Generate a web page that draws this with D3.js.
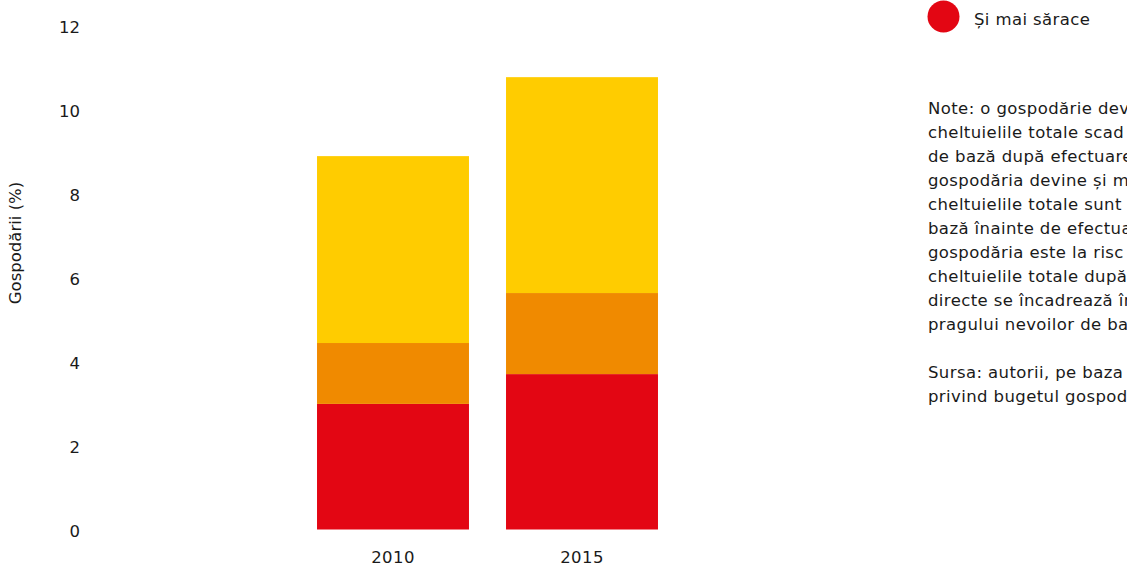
<!DOCTYPE html>
<html lang="ro">
<head>
<meta charset="utf-8">
<script src="https://cdn.jsdelivr.net/npm/d3@7"></script>
<style>
  html, body { margin: 0; padding: 0; background: #fff; }
  svg { display: block; font-family: "DejaVu Sans", "Noto Sans", sans-serif; }
</style>
</head>
<body>
<svg id="chart" width="1127" height="565"></svg>
<script>
// Categories and stacked series (share of households, %)
const years = ["2010", "2015"];
const seriesNames = ["Și mai sărace", "Mai sărace", "La risc de sărăcire"];
const severelyPoorer = [2.99, 3.70];
const poorer = [1.45, 1.93];
const atRisk = [4.45, 5.14];
const seriesColors = ["#e30613", "#f08a00", "#ffcc00"];
const yTicks = [0, 2, 4, 6, 8, 10, 12];
const yTitle = "Gospodării (%)";
const legendItems = ["Și mai sărace"];

const noteLines = [
  "Note: o gospodărie devine mai săracă dacă",
  "cheltuielile totale scad sub pragul nevoilor",
  "de bază după efectuarea plăților directe;",
  "gospodăria devine și mai săracă dacă",
  "cheltuielile totale sunt sub pragul nevoilor de",
  "bază înainte de efectuarea plăților directe;",
  "gospodăria este la risc de sărăcire dacă",
  "cheltuielile totale după efectuarea plăților",
  "directe se încadrează în limita a 120% a",
  "pragului nevoilor de bază.",
  "",
  "Sursa: autorii, pe baza anchetei",
  "privind bugetul gospodăriilor."
];

const rows = years.map((yr, i) => ({
  year: yr,
  [seriesNames[0]]: severelyPoorer[i],
  [seriesNames[1]]: poorer[i],
  [seriesNames[2]]: atRisk[i]
}));

const svg = d3.select("#chart");
const textColor = "#1a1a1a";
const fontSize = 16.5;
const tracking = "0.4px";
const fontFamily = "DejaVu Sans, Noto Sans, sans-serif";

const y = d3.scaleLinear().domain([0, 12]).range([529.5, 25.5]);
const x = d3.scaleBand()
  .domain(years)
  .range([298.5, 676.5])
  .paddingInner(0.196)
  .paddingOuter(0.098);

const color = d3.scaleOrdinal().domain(seriesNames).range(seriesColors);
const stacked = d3.stack().keys(seriesNames)(rows);

// Stacked bars
svg.append("g")
  .selectAll("g")
  .data(stacked)
  .join("g")
  .attr("fill", d => color(d.key))
  .selectAll("rect")
  .data(d => d)
  .join("rect")
  .attr("x", d => x(d.data.year))
  .attr("width", x.bandwidth())
  .attr("y", d => y(d[1]))
  .attr("height", d => y(d[0]) - y(d[1]));

// Y axis: labels only
const yAxis = svg.append("g")
  .attr("transform", "translate(80,0)")
  .call(d3.axisLeft(y).tickValues(yTicks).tickSize(0).tickPadding(0));
yAxis.select(".domain").remove();
yAxis.selectAll("text")
  .attr("font-size", fontSize)
  .attr("font-family", fontFamily)
  .attr("fill", textColor)
  .attr("dy", "0.44em");

// X axis: labels only
const xAxis = svg.append("g")
  .attr("transform", "translate(0,562.5)")
  .call(d3.axisBottom(x).tickSize(0).tickPadding(0));
xAxis.select(".domain").remove();
xAxis.selectAll("text")
  .attr("font-size", fontSize)
  .attr("font-family", fontFamily)
  .attr("letter-spacing", tracking)
  .attr("fill", textColor)
  .attr("y", 0)
  .attr("dy", 0);

// Y axis title
svg.append("text")
  .attr("transform", "translate(21,243) rotate(-90)")
  .attr("text-anchor", "middle")
  .attr("font-size", fontSize)
  .attr("fill", textColor)
  .text(yTitle);

// Legend
const legend = svg.append("g")
  .selectAll("g")
  .data(legendItems)
  .join("g")
  .attr("transform", "translate(943.5,16.5)");
legend.append("circle").attr("r", 16).attr("fill", d => color(d));
legend.append("text")
  .attr("x", 30.5)
  .attr("y", 8)
  .attr("font-size", fontSize)
  .attr("letter-spacing", tracking)
  .attr("fill", textColor)
  .text(d => d);

// Notes and source
svg.append("text")
  .attr("font-size", fontSize)
  .attr("letter-spacing", tracking)
  .attr("fill", textColor)
  .selectAll("tspan")
  .data(noteLines)
  .join("tspan")
  .attr("x", 928)
  .attr("y", (d, i) => 113.5 + i * 24)
  .text(d => d);
</script>
</body>
</html>
